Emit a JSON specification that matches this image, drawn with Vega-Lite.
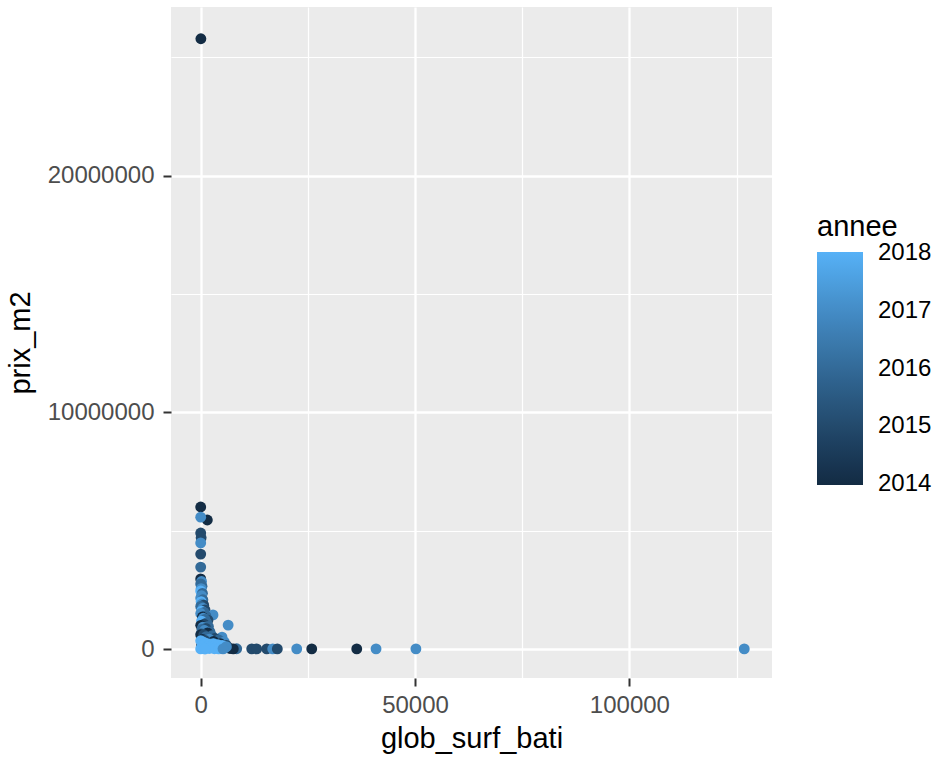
{
  "$schema": "https://vega.github.io/schema/vega-lite/v6.json",
  "width": 601,
  "height": 671,
  "autosize": "none",
  "padding": {"left": 171, "top": 7, "right": 165, "bottom": 81},
  "background": "white",
  "config": {
    "view": {"fill": "#EBEBEB", "stroke": null},
    "font": "Liberation Sans"
  },
  "data": {
    "values": [
      {"glob_surf_bati": 40, "prix_m2": 25780000, "annee": 2014},
      {"glob_surf_bati": 0, "prix_m2": 6000000, "annee": 2014},
      {"glob_surf_bati": 1540, "prix_m2": 5450000, "annee": 2014},
      {"glob_surf_bati": 0, "prix_m2": 5570000, "annee": 2017},
      {"glob_surf_bati": 0, "prix_m2": 4900000, "annee": 2015},
      {"glob_surf_bati": 100, "prix_m2": 4700000, "annee": 2015},
      {"glob_surf_bati": 0, "prix_m2": 4480000, "annee": 2017},
      {"glob_surf_bati": 0, "prix_m2": 4010000, "annee": 2015},
      {"glob_surf_bati": 0, "prix_m2": 3460000, "annee": 2016},
      {"glob_surf_bati": 0, "prix_m2": 2960000, "annee": 2014},
      {"glob_surf_bati": 200, "prix_m2": 2850000, "annee": 2017},
      {"glob_surf_bati": 0, "prix_m2": 2750000, "annee": 2016},
      {"glob_surf_bati": 300, "prix_m2": 2650000, "annee": 2016},
      {"glob_surf_bati": 100, "prix_m2": 2550000, "annee": 2017},
      {"glob_surf_bati": 0, "prix_m2": 2450000, "annee": 2018},
      {"glob_surf_bati": 400, "prix_m2": 2350000, "annee": 2016},
      {"glob_surf_bati": 200, "prix_m2": 2250000, "annee": 2017},
      {"glob_surf_bati": 0, "prix_m2": 2150000, "annee": 2017},
      {"glob_surf_bati": 500, "prix_m2": 2080000, "annee": 2016},
      {"glob_surf_bati": 100, "prix_m2": 2000000, "annee": 2018},
      {"glob_surf_bati": 300, "prix_m2": 1900000, "annee": 2017},
      {"glob_surf_bati": 700, "prix_m2": 1850000, "annee": 2015},
      {"glob_surf_bati": 0, "prix_m2": 1800000, "annee": 2016},
      {"glob_surf_bati": 500, "prix_m2": 1720000, "annee": 2017},
      {"glob_surf_bati": 1000, "prix_m2": 1650000, "annee": 2015},
      {"glob_surf_bati": 200, "prix_m2": 1600000, "annee": 2018},
      {"glob_surf_bati": 800, "prix_m2": 1550000, "annee": 2016},
      {"glob_surf_bati": 2870, "prix_m2": 1440000, "annee": 2017},
      {"glob_surf_bati": 0, "prix_m2": 1500000, "annee": 2017},
      {"glob_surf_bati": 1200, "prix_m2": 1400000, "annee": 2016},
      {"glob_surf_bati": 400, "prix_m2": 1350000, "annee": 2014},
      {"glob_surf_bati": 1700, "prix_m2": 1220000, "annee": 2015},
      {"glob_surf_bati": 600, "prix_m2": 1300000, "annee": 2017},
      {"glob_surf_bati": 1000, "prix_m2": 1250000, "annee": 2016},
      {"glob_surf_bati": 200, "prix_m2": 1180000, "annee": 2018},
      {"glob_surf_bati": 6400, "prix_m2": 1010000, "annee": 2017},
      {"glob_surf_bati": 1400, "prix_m2": 1100000, "annee": 2016},
      {"glob_surf_bati": 800, "prix_m2": 1050000, "annee": 2015},
      {"glob_surf_bati": 0, "prix_m2": 1000000, "annee": 2014},
      {"glob_surf_bati": 1800, "prix_m2": 950000, "annee": 2016},
      {"glob_surf_bati": 500, "prix_m2": 920000, "annee": 2017},
      {"glob_surf_bati": 1200, "prix_m2": 870000, "annee": 2015},
      {"glob_surf_bati": 300, "prix_m2": 830000, "annee": 2016},
      {"glob_surf_bati": 2170, "prix_m2": 720000, "annee": 2016},
      {"glob_surf_bati": 900, "prix_m2": 780000, "annee": 2017},
      {"glob_surf_bati": 1600, "prix_m2": 680000, "annee": 2014},
      {"glob_surf_bati": 100, "prix_m2": 650000, "annee": 2016},
      {"glob_surf_bati": 0, "prix_m2": 600000, "annee": 2014},
      {"glob_surf_bati": 4970, "prix_m2": 500000, "annee": 2017},
      {"glob_surf_bati": 2600, "prix_m2": 560000, "annee": 2016},
      {"glob_surf_bati": 700, "prix_m2": 600000, "annee": 2015},
      {"glob_surf_bati": 1300, "prix_m2": 520000, "annee": 2016},
      {"glob_surf_bati": 3300, "prix_m2": 450000, "annee": 2015},
      {"glob_surf_bati": 400, "prix_m2": 400000, "annee": 2014},
      {"glob_surf_bati": 2000, "prix_m2": 420000, "annee": 2017},
      {"glob_surf_bati": 4200, "prix_m2": 380000, "annee": 2016},
      {"glob_surf_bati": 1000, "prix_m2": 360000, "annee": 2015},
      {"glob_surf_bati": 3000, "prix_m2": 320000, "annee": 2014},
      {"glob_surf_bati": 5500, "prix_m2": 300000, "annee": 2017},
      {"glob_surf_bati": 600, "prix_m2": 280000, "annee": 2016},
      {"glob_surf_bati": 2400, "prix_m2": 250000, "annee": 2015},
      {"glob_surf_bati": 4600, "prix_m2": 220000, "annee": 2014},
      {"glob_surf_bati": 1500, "prix_m2": 200000, "annee": 2016},
      {"glob_surf_bati": 3600, "prix_m2": 170000, "annee": 2017},
      {"glob_surf_bati": 6000, "prix_m2": 150000, "annee": 2015},
      {"glob_surf_bati": 200, "prix_m2": 150000, "annee": 2014},
      {"glob_surf_bati": 2800, "prix_m2": 120000, "annee": 2016},
      {"glob_surf_bati": 5000, "prix_m2": 90000, "annee": 2016},
      {"glob_surf_bati": 6830, "prix_m2": 20000, "annee": 2014},
      {"glob_surf_bati": 8400, "prix_m2": 10000, "annee": 2016},
      {"glob_surf_bati": 7600, "prix_m2": 5000, "annee": 2014},
      {"glob_surf_bati": 11900, "prix_m2": 3000, "annee": 2015},
      {"glob_surf_bati": 13060, "prix_m2": 3000, "annee": 2015},
      {"glob_surf_bati": 15400, "prix_m2": 3000, "annee": 2015},
      {"glob_surf_bati": 16800, "prix_m2": 3000, "annee": 2017},
      {"glob_surf_bati": 17870, "prix_m2": 3000, "annee": 2015},
      {"glob_surf_bati": 22400, "prix_m2": 3000, "annee": 2017},
      {"glob_surf_bati": 25900, "prix_m2": 3000, "annee": 2014},
      {"glob_surf_bati": 36400, "prix_m2": 3000, "annee": 2014},
      {"glob_surf_bati": 40900, "prix_m2": 3000, "annee": 2017},
      {"glob_surf_bati": 50200, "prix_m2": 3000, "annee": 2017},
      {"glob_surf_bati": 126800, "prix_m2": 3000, "annee": 2017},
      {"glob_surf_bati": 0, "prix_m2": 350000, "annee": 2018},
      {"glob_surf_bati": 500, "prix_m2": 300000, "annee": 2018},
      {"glob_surf_bati": 1200, "prix_m2": 250000, "annee": 2018},
      {"glob_surf_bati": 2000, "prix_m2": 200000, "annee": 2018},
      {"glob_surf_bati": 3000, "prix_m2": 220000, "annee": 2018},
      {"glob_surf_bati": 4000, "prix_m2": 180000, "annee": 2018},
      {"glob_surf_bati": 5000, "prix_m2": 150000, "annee": 2018},
      {"glob_surf_bati": 300, "prix_m2": 120000, "annee": 2018},
      {"glob_surf_bati": 1500, "prix_m2": 100000, "annee": 2018},
      {"glob_surf_bati": 2500, "prix_m2": 80000, "annee": 2018},
      {"glob_surf_bati": 3500, "prix_m2": 60000, "annee": 2018},
      {"glob_surf_bati": 4500, "prix_m2": 50000, "annee": 2018},
      {"glob_surf_bati": 5500, "prix_m2": 40000, "annee": 2018},
      {"glob_surf_bati": 6000, "prix_m2": 100000, "annee": 2017},
      {"glob_surf_bati": 800, "prix_m2": 30000, "annee": 2018},
      {"glob_surf_bati": 2000, "prix_m2": 20000, "annee": 2018},
      {"glob_surf_bati": 3200, "prix_m2": 10000, "annee": 2018},
      {"glob_surf_bati": 4200, "prix_m2": 5000, "annee": 2018},
      {"glob_surf_bati": 0, "prix_m2": 5000, "annee": 2018},
      {"glob_surf_bati": 1000, "prix_m2": 2000, "annee": 2018},
      {"glob_surf_bati": 5200, "prix_m2": 8000, "annee": 2017}
    ]
  },
  "mark": {"type": "circle", "size": 118, "opacity": 1},
  "encoding": {
    "x": {
      "field": "glob_surf_bati",
      "type": "quantitative",
      "scale": {"domain": [-6930, 133270], "nice": false, "zero": false},
      "axis": {
        "title": "glob_surf_bati",
        "values": [0, 25000, 50000, 75000, 100000, 125000],
        "labelExpr": "datum.value % 50000 === 0 ? datum.label : ''",
        "format": "d",
        "domain": false,
        "grid": true,
        "gridColor": "white",
        "gridWidth": {"condition": {"test": "datum.value % 50000 === 0", "value": 2.3}, "value": 1.2},
        "tickOpacity": {"condition": {"test": "datum.value % 50000 === 0", "value": 1}, "value": 0},
        "tickColor": "#333333",
        "tickWidth": 2,
        "tickSize": 8,
        "labelFontSize": 24,
        "labelColor": "#4D4D4D",
        "labelPadding": 7,
        "titleFontSize": 29,
        "titleFontWeight": "normal",
        "titleColor": "black",
        "titlePadding": 7
      }
    },
    "y": {
      "field": "prix_m2",
      "type": "quantitative",
      "scale": {"domain": [-1225000, 27120000], "nice": false, "zero": false},
      "axis": {
        "title": "prix_m2",
        "values": [0, 5000000, 10000000, 15000000, 20000000, 25000000],
        "labelExpr": "datum.value % 10000000 === 0 ? datum.label : ''",
        "format": "d",
        "domain": false,
        "grid": true,
        "gridColor": "white",
        "gridWidth": {"condition": {"test": "datum.value % 10000000 === 0", "value": 2.3}, "value": 1.2},
        "tickOpacity": {"condition": {"test": "datum.value % 10000000 === 0", "value": 1}, "value": 0},
        "tickColor": "#333333",
        "tickWidth": 2,
        "tickSize": 8,
        "labelFontSize": 24,
        "labelColor": "#4D4D4D",
        "labelPadding": 9,
        "titleFontSize": 29,
        "titleFontWeight": "normal",
        "titleColor": "black",
        "titlePadding": 12
      }
    },
    "color": {
      "field": "annee",
      "type": "quantitative",
      "scale": {"domain": [2013.98, 2018.02], "range": ["#132B43", "#56B1F7"], "interpolate": "lab"},
      "legend": {
        "orient": "none",
        "legendX": 646,
        "legendY": 206,
        "direction": "vertical",
        "gradientLength": 233,
        "gradientThickness": 46,
        "gradientStrokeWidth": 0,
        "values": [2014, 2015, 2016, 2017, 2018],
        "format": "d",
        "title": "annee",
        "titleFontSize": 29,
        "titleFontWeight": "normal",
        "titleColor": "black",
        "titlePadding": 10,
        "labelFontSize": 24,
        "labelColor": "black",
        "labelOffset": 15,
        "labelOverlap": false,
        "labelBaseline": "middle"
      }
    }
  }
}
